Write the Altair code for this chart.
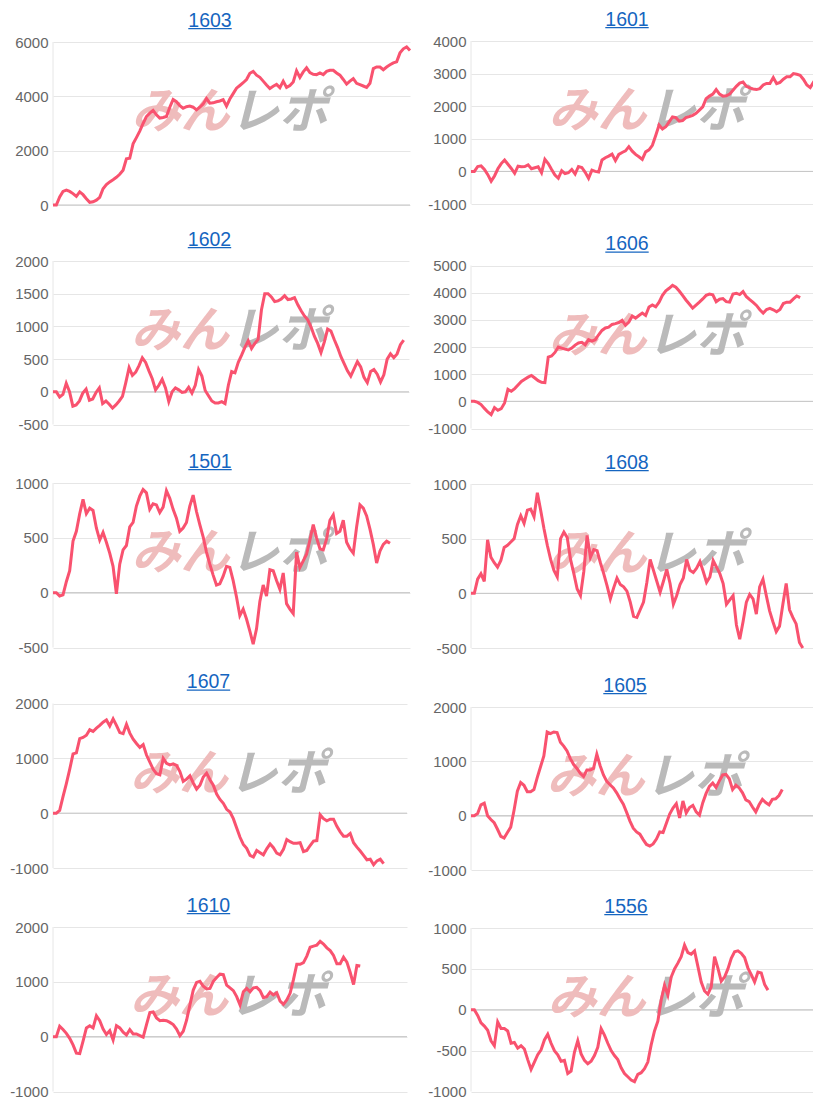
import altair as alt
import pandas as pd

titles = ["1603", "1601", "1602", "1606", "1501", "1608", "1607", "1605", "1610", "1556"]

s1603 = [0, 0, 300, 500, 550, 500, 420, 320, 480, 380,
         230, 100, 120, 180, 280, 600, 750, 850, 930, 1020,
         1130, 1280, 1700, 1720, 2250, 2480, 2720, 3000, 3250, 3380,
         3480, 3320, 3200, 3220, 3260, 3600, 3880, 3800, 3660, 3560,
         3620, 3640, 3600, 3500, 3600, 3720, 3920, 3750, 3760, 3800,
         3830, 3880, 3640, 3900, 4100, 4300, 4400, 4500, 4620, 4850,
         4920, 4780, 4700, 4560, 4420, 4290, 4370, 4440, 4320, 4560,
         4330, 4400, 4530, 4940, 4700, 4900, 5050, 4870, 4810, 4800,
         4860, 4800, 4920, 4960, 4960, 4860, 4780, 4620, 4450, 4560,
         4650, 4480, 4430, 4380, 4330, 4480, 5020, 5080, 5080, 4980,
         5080, 5160, 5230, 5270, 5600, 5750, 5820, 5690]

s1601 = [0, 0, 150, 170, 60, -100, -300, -140, 80, 240,
         350, 220, 90, -60, 160, 140, 150, 200, 80, 110,
         140, -40, 370, 240, 60, -110, -210, 20, -70, -40,
         60, -80, 150, 120, -30, -210, 40, 0, -20, 350,
         420, 470, 530, 330, 520, 580, 630, 760, 620, 520,
         450, 370, 600, 660, 800, 1100, 1420, 1300, 1370, 1520,
         1670, 1650, 1540, 1560, 1650, 1680, 1720, 1780, 1880, 1980,
         2230, 2310, 2370, 2510, 2370, 2310, 2320, 2370, 2490, 2610,
         2710, 2740, 2610, 2560, 2530, 2510, 2540, 2650, 2700, 2700,
         2880, 2690, 2730, 2830, 2900, 2900, 3000, 2980, 2950, 2820,
         2650, 2570, 2740, 2900, 2850]

s1602 = [0, 0, -80, -40, 130, 0, -220, -200, -140, -20,
         40, -130, -110, -10, 60, -180, -140, -190, -250, -200,
         -140, -70, 140, 370, 250, 300, 400, 520, 450, 320,
         200, 30, 100, 190, 60, -150, 0, 60, 30, -10,
         0, 70, -20, 100, 340, 240, 20, -60, -140, -170,
         -170, -150, -180, 100, 310, 290, 450, 560, 680, 780,
         660, 740, 800, 1250, 1500, 1500, 1450, 1380, 1390, 1420,
         1470, 1410, 1420, 1440, 1330, 1240, 1160, 1100, 990, 850,
         740, 600, 760, 960, 930, 800, 680, 540, 430, 320,
         240, 350, 460, 380, 220, 140, 310, 340, 270, 150,
         260, 500, 580, 520, 580, 720, 790]

s1606 = [0, 0, -40, -120, -260, -390, -490, -230, -330, -270,
         -60, 440, 370, 470, 600, 730, 810, 890, 950, 860,
         760, 700, 690, 1630, 1670, 1800, 2000, 1960, 1920, 1890,
         1960, 2070, 2150, 2170, 2080, 2270, 2220, 2270, 2450, 2610,
         2700, 2730, 2830, 2860, 2900, 2980, 2800, 2920, 3140, 3060,
         3160, 3250, 3160, 3470, 3550, 3480, 3650, 3900, 4070, 4160,
         4270, 4200, 4060, 3900, 3730, 3580, 3430, 3540, 3650, 3770,
         3900, 3950, 3920, 3670, 3760, 3780, 3670, 3650, 3950, 3980,
         3930, 4040, 3850, 3740, 3640, 3530, 3370, 3250, 3380, 3420,
         3370, 3300, 3380, 3600, 3650, 3650, 3770, 3880, 3820]

s1501 = [0, 0, -30, -20, 100, 200, 470, 560, 720, 850,
         720, 770, 750, 590, 480, 550, 460, 360, 240, -10,
         260, 390, 430, 600, 640, 790, 880, 940, 910, 760,
         810, 800, 730, 780, 930, 860, 760, 680, 560, 590,
         640, 790, 890, 740, 620, 510, 370, 260, 160, 70,
         80, 150, 240, 230, 110, -40, -210, -150, -240, -350,
         -470, -330, -80, 70, -30, 210, 200, 110, 30, 180,
         -100, -150, -190, 370, 230, 290, 350, 480, 620, 500,
         400, 390, 490, 660, 710, 540, 560, 660, 460, 400,
         360, 600, 800, 770, 700, 580, 440, 270, 380, 440,
         470, 450]

s1608 = [0, 0, 130, 180, 110, 490, 330, 280, 240, 300,
         420, 440, 470, 500, 630, 710, 640, 760, 770, 700,
         920, 760, 590, 440, 310, 210, 150, 500, 560, 510,
         310, 180, 40, -20, 200, 530, 330, 400, 390, 280,
         180, 70, -50, 50, 140, 80, 60, 20, -80, -210,
         -220, -150, -80, 100, 310, 210, 110, 10, 110, 220,
         90, -100, -20, 80, 140, 310, 210, 190, 230, 290,
         200, 100, 150, 300, 240, 180, 90, -100, -60, -20,
         -290, -420, -260, -80, -10, -50, -190, 60, 130, -20,
         -160, -260, -350, -300, -100, 90, -150, -220, -280, -450,
         -500]

s1607 = [0, 0, 50, 300, 540, 800, 1080, 1100, 1360, 1380,
         1420, 1520, 1490, 1550, 1600, 1660, 1700, 1590, 1720, 1600,
         1470, 1450, 1620, 1460, 1350, 1270, 1200, 1250, 1060, 930,
         800, 720, 700, 1000, 910, 880, 900, 870, 760, 580,
         620, 680, 550, 440, 510, 660, 730, 610, 510, 350,
         250, 180, 70, 20, -100, -270, -440, -570, -640, -770,
         -800, -680, -720, -760, -650, -560, -630, -730, -760, -660,
         -480, -520, -550, -550, -540, -700, -680, -590, -510, -500,
         -30, -100, -140, -110, -110, -240, -340, -420, -420, -370,
         -540, -620, -690, -770, -850, -840, -940, -870, -840, -920]

s1605 = [0, 0, 40, 200, 230, 0, -70, -130, -250, -380,
         -410, -310, -210, 100, 450, 610, 560, 440, 440, 480,
         700, 900, 1100, 1540, 1510, 1540, 1530, 1350, 1280, 1190,
         1050, 940, 870, 780, 720, 840, 840, 870, 1130, 920,
         750, 630, 570, 510, 420, 310, 210, 60, -100, -230,
         -300, -340, -440, -530, -560, -520, -430, -300, -310, -140,
         30, 140, 220, -40, 270, 50, 150, 190, 70, 10,
         240, 410, 540, 600, 520, 640, 750, 760, 680, 480,
         560, 510, 420, 290, 260, 160, 70, 200, 300, 240,
         200, 300, 310, 370, 480]

s1610 = [0, 0, 190, 130, 60, -30, -150, -300, -310, -80,
         160, 200, 160, 380, 290, 140, 40, 110, -60, 200,
         160, 80, 30, 130, 50, 50, 20, -10, 220, 440,
         450, 340, 290, 300, 290, 260, 220, 140, 20, 100,
         300, 580, 850, 990, 1010, 920, 870, 880, 1010, 1080,
         1140, 1130, 940, 890, 840, 730, 580, 820, 880, 820,
         890, 900, 840, 710, 730, 810, 760, 800, 650, 590,
         670, 790, 1040, 1320, 1320, 1350, 1470, 1630, 1650, 1670,
         1740, 1690, 1620, 1570, 1480, 1330, 1330, 1450, 1360, 1170,
         950, 1300, 1290]

s1556 = [0, 0, -70, -160, -200, -250, -380, -440, -150, -230,
         -230, -260, -410, -400, -470, -440, -480, -610, -730, -640,
         -550, -490, -370, -300, -410, -500, -550, -630, -620, -780,
         -750, -520, -380, -540, -620, -660, -630, -560, -460, -230,
         -310, -410, -500, -560, -610, -710, -780, -820, -860, -880,
         -790, -770, -720, -640, -430, -260, -140, 120, 300, 180,
         400, 500, 570, 650, 790, 700, 680, 720, 530, 340,
         230, 190, 280, 650, 510, 350, 400, 500, 630, 710,
         720, 690, 640, 510, 430, 340, 460, 450, 310, 240]

series = [s1603, s1601, s1602, s1606, s1501, s1608, s1607, s1605, s1610, s1556]

y_domains = [(0, 6000), (-1000, 4000), (-500, 2000), (-1000, 5000), (-500, 1000),
             (-500, 1000), (-1000, 2000), (-1000, 2000), (-1000, 2000), (-1000, 1000)]
y_steps = [2000, 1000, 500, 1000, 500, 500, 1000, 1000, 1000, 500]
x_spans = [107, 105.7, 107.6, 105.7, 107, 107, 106, 106, 106, 105.8]

# ---- layout / style (cell = 222 px tall, plot band placed inside it) ----
widths = [357, 355, 356, 355, 357, 355, 354, 351, 354, 353]
plot_top = [34, 33, 31, 35.5, 31, 32, 29.5, 33, 31, 32]
plot_bottom = [197, 196, 194.5, 198.5, 195.5, 196, 194, 196, 195.5, 195.5]
CELL_H = 222

FONT = "Liberation Sans"
LINE_COLOR = "#f9526f"
TITLE_COLOR = "#1565c0"
one = pd.DataFrame({"a": [0]})


def panel(k):
    vals = series[k]
    df = pd.DataFrame({"i": list(range(len(vals))), "v": vals})
    lo, hi = y_domains[k]
    ticks = list(range(lo, hi + 1, y_steps[k]))
    w = widths[k]
    top = plot_top[k]
    bot = plot_bottom[k]
    xs = alt.Scale(domain=[0, x_spans[k]], nice=False, zero=False)
    ys = alt.Scale(domain=[lo, hi], range=[bot, top], nice=False, zero=False)
    yaxis = alt.Axis(values=ticks, labelExpr="'' + datum.value", grid=True,
                     domain=False, ticks=False, title=None, labelPadding=5,
                     labelFontSize=15, labelFont=FONT, labelColor="#666666",
                     gridColor="#e6e6e6", gridWidth=1)

    line = alt.Chart(df).mark_line(color=LINE_COLOR, strokeWidth=3).encode(
        x=alt.X("i:Q", scale=xs, axis=None),
        y=alt.Y("v:Q", scale=ys, axis=yaxis),
    )
    frame = alt.Chart(pd.DataFrame({"x0": [0], "lo": [lo], "hi": [hi]})).mark_rule(
        color="#e6e6e6", strokeWidth=1
    ).encode(
        x=alt.X("x0:Q", scale=xs, axis=None),
        y=alt.Y("lo:Q", scale=ys, axis=yaxis),
        y2="hi:Q",
    )
    zero = alt.Chart(pd.DataFrame({"x0": [0], "x1": [x_spans[k]], "z": [0]})).mark_rule(
        color="#c4c4c4", strokeWidth=1
    ).encode(
        x=alt.X("x0:Q", scale=xs, axis=None),
        x2="x1:Q",
        y=alt.Y("z:Q", scale=ys, axis=yaxis),
    )

    cx = w / 2
    wm1 = alt.Chart(one).mark_text(
        text="みん", align="right", baseline="middle", font="Noto Sans CJK JP",
        fontSize=49, fontWeight="bold", fontStyle="italic", color="#efbcbc"
    ).encode(x=alt.value(cx - 2), y=alt.value(top + 71))
    wm2 = alt.Chart(one).mark_text(
        text="レポ", align="left", baseline="middle", font="Noto Sans CJK JP",
        fontSize=49, fontWeight="bold", fontStyle="italic", color="#bababa"
    ).encode(x=alt.value(cx - 1.5), y=alt.value(top + 71))

    tx = (w - 45) / 2 + 1
    ttl = alt.Chart(one).mark_text(
        text=titles[k], align="center", baseline="alphabetic", font=FONT,
        fontSize=19.5, color=TITLE_COLOR
    ).encode(x=alt.value(tx), y=alt.value(top - 15.5))
    ul = alt.Chart(one).mark_rule(color=TITLE_COLOR, strokeWidth=1.4).encode(
        x=alt.value(tx - 21.7), x2=alt.value(tx + 21.7), y=alt.value(top - 13.4))

    return alt.layer(frame, zero, wm1, wm2, ttl, ul, line).properties(
        width=w, height=CELL_H)


chart = alt.concat(
    *[panel(k) for k in range(10)],
    columns=2,
    bounds="flush",
    spacing={"row": 0, "column": 61},
    autosize=alt.AutoSizeParams(type="none"),
    padding={"left": 45, "top": 0, "right": 760, "bottom": 1096},
).configure_view(stroke=None)

chart.save("out.html", embed_options={"renderer": "svg", "actions": False})
